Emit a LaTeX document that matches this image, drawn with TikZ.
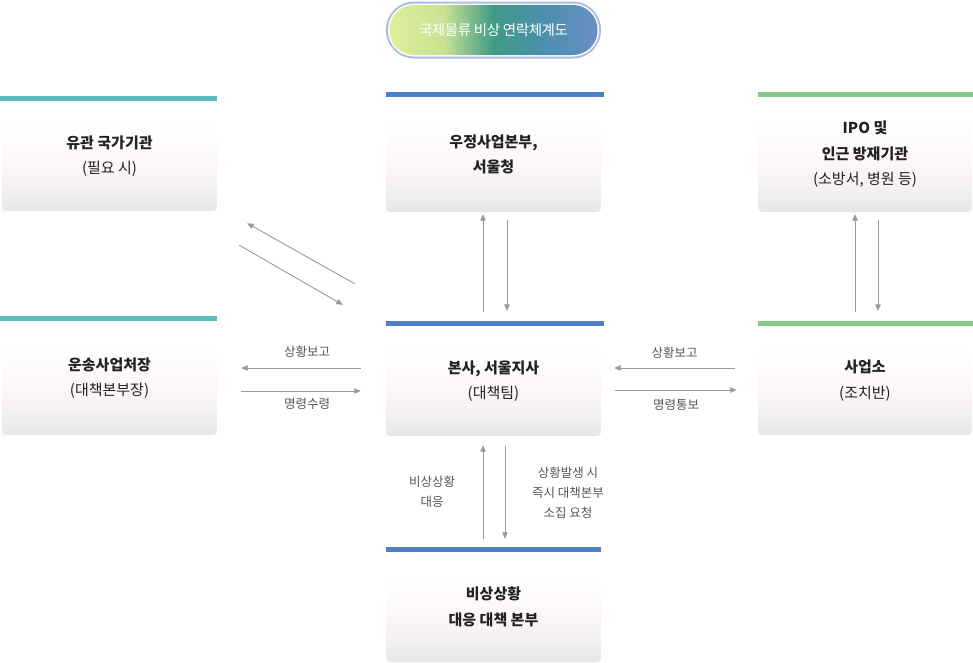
\documentclass[tikz,border=0pt]{standalone}
\usepackage{fontspec}
\setmainfont{Noto Sans CJK KR}
\usetikzlibrary{arrows.meta}
\definecolor{barteal}{HTML}{5FBCBE}
\definecolor{barblue}{HTML}{4F7FC6}
\definecolor{bargreen}{HTML}{88C98B}
\definecolor{boxbot}{HTML}{E6E6E9}
\definecolor{boxmid}{HTML}{F6F2F3}
\definecolor{boxpink}{HTML}{FDF7F8}
\definecolor{boxlite}{HTML}{FEFCFC}
\definecolor{txt}{HTML}{222222}
\definecolor{lbl}{HTML}{555555}
\definecolor{arrc}{HTML}{9A9A9A}
\definecolor{t1}{HTML}{DDEF9B}
\definecolor{t2}{HTML}{C9E393}
\definecolor{t3}{HTML}{3F9A85}
\definecolor{t4}{HTML}{4C8FAE}
\definecolor{t5}{HTML}{6A8EC6}
\definecolor{pillrim}{HTML}{A9BDE3}
\pgfdeclareverticalshading{boxshade}{100bp}{color(0bp)=(boxbot); color(25bp)=(boxbot); color(37bp)=(boxmid); color(48bp)=(boxpink); color(58bp)=(boxlite); color(66bp)=(white); color(100bp)=(white)}
\pgfdeclarehorizontalshading{titleshade}{100bp}{color(0bp)=(t1); color(25bp)=(t1); color(38bp)=(t2); color(50bp)=(t3); color(62bp)=(t4); color(75bp)=(t5); color(100bp)=(t5)}
\begin{document}
\begin{tikzpicture}[x=1pt,y=-1pt,
  box/.style={rounded corners=4pt, shading=boxshade, minimum width=215pt, minimum height=110pt, align=center, text=txt, font=\fontsize{15}{25.5}\selectfont, inner sep=0pt},
  arr/.style={draw=arrc, line width=0.9pt, -{Triangle[length=6.5pt,width=5.5pt]}},
  lab/.style={text=lbl, font=\fontsize{12.5}{20}\selectfont, align=center, inner sep=0pt}]
\useasboundingbox (0,0) rectangle (973,662);
% title
\node[draw=none, fill=pillrim, rounded corners=28pt, minimum width=215pt, minimum height=57pt] (pillo) at (493.5,30) {};
\node[fill=white, rounded corners=26pt, minimum width=211pt, minimum height=53pt] (pillw) at (493.5,30) {};
\node[shading=titleshade, rounded corners=24.5pt, minimum width=208pt, minimum height=50pt, text=white, font=\fontsize{14.5}{17}\selectfont\addfontfeature{LetterSpace=-3}] (title) at (493.5,30) {국제물류 비상 연락체계도};
% boxes
\node[box, minimum width=215pt, minimum height=110pt] (lt) at (109.5,156) {\textbf{유관 국가기관}\\(필요 시)};
\node[box, minimum width=215pt, minimum height=115pt] (mt) at (493.5,154.5) {\textbf{우정사업본부,}\\\textbf{서울청}};
\node[box, minimum width=214pt, minimum height=115pt] (rt) at (865,154.5) {\textbf{IPO 및}\\\textbf{인근 방재기관}\\(소방서, 병원 등)};
\node[box, minimum width=215pt, minimum height=114pt] (lm) at (109.5,378) {\textbf{운송사업처장}\\(대책본부장)};
\node[box, minimum width=215pt, minimum height=110pt] (mm) at (493.5,381) {\textbf{본사, 서울지사}\\(대책팀)};
\node[box, minimum width=214pt, minimum height=109pt] (rm) at (865,380.5) {\textbf{사업소}\\(조치반)};
\node[box, minimum width=215pt, minimum height=110pt] (bm) at (493.5,607) {\textbf{비상상황}\\\textbf{대응 대책 본부}};
% bars
\fill[barteal] ([xshift=-2pt]lt.north west) rectangle ([yshift=5pt]lt.north east);
\fill[barblue] (mt.north west) rectangle ([xshift=3pt,yshift=5pt]mt.north east);
\fill[bargreen] (rt.north west) rectangle ([xshift=1pt,yshift=5pt]rt.north east);
\fill[barteal] ([xshift=-2pt]lm.north west) rectangle ([yshift=5pt]lm.north east);
\fill[barblue] (mm.north west) rectangle ([xshift=3pt,yshift=5pt]mm.north east);
\fill[bargreen] (rm.north west) rectangle ([xshift=1pt,yshift=5pt]rm.north east);
\fill[barblue] (bm.north west) rectangle ([yshift=5pt]bm.north east);
% vertical arrows
\draw[arr] ([xshift=-10.5pt,yshift=14pt]mm.north) -- ([xshift=-10.5pt,yshift=-2pt]mt.south);
\draw[arr] ([xshift=13.5pt,yshift=-8pt]mt.south) -- ([xshift=13.5pt,yshift=15pt]mm.north);
\draw[arr] ([xshift=-10pt,yshift=14pt]rm.north) -- ([xshift=-10pt,yshift=-2pt]rt.south);
\draw[arr] ([xshift=13pt,yshift=-8pt]rt.south) -- ([xshift=13pt,yshift=15pt]rm.north);
\draw[arr] ([xshift=-10.5pt,yshift=13pt]bm.north) -- node[lab, xshift=-51pt] {비상상황\\대응} ([xshift=-10.5pt,yshift=-9pt]mm.south);
\draw[arr] ([xshift=11.5pt,yshift=-10pt]mm.south) -- node[lab, xshift=63pt] {상황발생 시\\즉시 대책본부\\소집 요청} ([xshift=11.5pt,yshift=13pt]bm.north);
% diagonal arrows
\draw[arr] ([xshift=-31pt,yshift=42pt]mm.north west) -- ([xshift=30pt,yshift=-12pt]lt.south east);
\draw[arr] ([xshift=22pt,yshift=-34pt]lt.south east) -- ([xshift=-43pt,yshift=21pt]mm.north west);
% horizontal arrows left
\draw[arr] ([xshift=-25pt,yshift=13pt]mm.west) -- node[lab, xshift=6pt, yshift=16pt] {상황보고} ([xshift=24pt,yshift=10pt]lm.east);
\draw[arr] ([xshift=24pt,yshift=-13pt]lm.east) -- node[lab, xshift=6pt, yshift=-13pt] {명령수령} ([xshift=-25pt,yshift=-10pt]mm.west);
% horizontal arrows right
\draw[arr] ([xshift=-23pt,yshift=12.5pt]rm.west) -- node[lab, xshift=0pt, yshift=15pt] {상황보고} ([xshift=13pt,yshift=13pt]mm.east);
\draw[arr] ([xshift=14pt,yshift=-9pt]mm.east) -- node[lab, xshift=0pt, yshift=-15pt] {명령통보} ([xshift=-21pt,yshift=-9.5pt]rm.west);
\end{tikzpicture}
\end{document}
